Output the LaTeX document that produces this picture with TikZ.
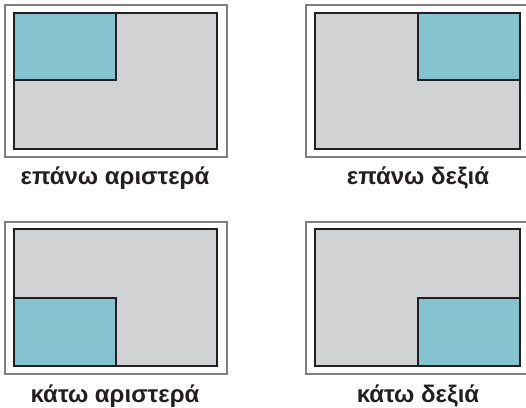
\documentclass[tikz,border=0pt]{standalone}
\usepackage{fontspec}
\setmainfont{Liberation Sans}
\definecolor{panelgray}{HTML}{D1D2D4}
\definecolor{panelblue}{HTML}{86C3D1}
\definecolor{framegray}{HTML}{7F7F7F}
\definecolor{inkblack}{HTML}{231F20}
\tikzset{
  frame/.style={draw=framegray, line width=2pt},
  screen/.style={draw=inkblack, fill=panelgray, line width=2pt},
  pip/.style={draw=inkblack, fill=panelblue, line width=1.5pt},
  lbl/.style={anchor=base, font=\bfseries\fontsize{24}{28}\selectfont, text=inkblack, inner sep=0pt}
}
\begin{document}
\begin{tikzpicture}[x=1pt,y=-1pt]
\useasboundingbox (0,0) rectangle (526,407);
% top left
\draw[frame] (5,5) rectangle (227,157);
\draw[screen] (14,13) rectangle (217,149);
\draw[pip] (14,13) rectangle (116,80);
\draw[screen, fill=none] (14,13) rectangle (217,149);
\node[lbl] (tl) at (115,184) {επάνω αριστερά};
% top right
\draw[frame] (306,5) rectangle (532,157);
\draw[screen] (315,13) rectangle (520,149);
\draw[pip] (418,13) rectangle (520,80);
\draw[screen, fill=none] (315,13) rectangle (520,149);
\node[lbl] (tr) at (418,184) {επάνω δεξιά};
% bottom left
\draw[frame] (5,222) rectangle (227,374);
\draw[screen] (14,229) rectangle (217,366);
\draw[pip] (14,298) rectangle (116,366);
\draw[screen, fill=none] (14,229) rectangle (217,366);
\node[lbl] (bl) at (115,402) {κάτω αριστερά};
% bottom right
\draw[frame] (306,222) rectangle (532,374);
\draw[screen] (315,229) rectangle (520,366);
\draw[pip] (418,298) rectangle (520,366);
\draw[screen, fill=none] (315,229) rectangle (520,366);
\node[lbl] (br) at (418,402) {κάτω δεξιά};
\end{tikzpicture}
\end{document}
